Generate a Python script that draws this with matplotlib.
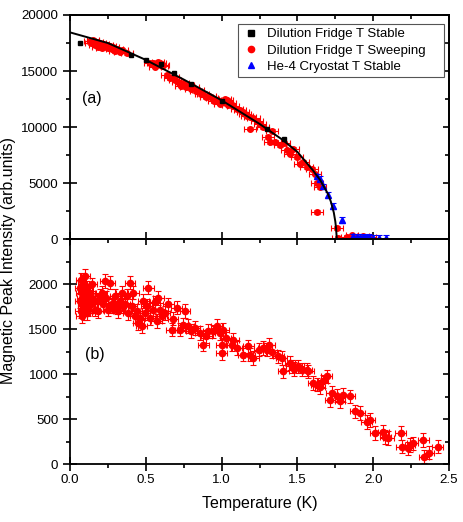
import matplotlib
matplotlib.use("Agg")
import matplotlib.pyplot as plt
from matplotlib.lines import Line2D
from matplotlib.ticker import MultipleLocator

plt.rcParams['font.family'] = ['Liberation Sans', 'DejaVu Sans']

# ---- panel (a): order parameter ----
# dilution fridge, T stable (black squares)
T_stable = [0.066, 0.40, 0.50, 0.60, 0.688, 0.80, 1.0, 1.297, 1.41]
I_stable = [17530, 16430, 15950, 15620, 14850, 13810, 12350, 9880, 8990]

# dilution fridge, T sweeping (red circles)
T_sweep_a = [0.13, 0.14, 0.15, 0.154, 0.165, 0.176, 0.187, 0.198, 0.209, 0.22,
             0.231, 0.242, 0.253, 0.264, 0.275, 0.286, 0.297, 0.308, 0.319, 0.33,
             0.341, 0.374, 0.528, 0.55, 0.561, 0.572, 0.583, 0.594, 0.605, 0.616,
             0.638, 0.66, 0.68, 0.693, 0.714, 0.73, 0.747, 0.765, 0.78, 0.80,
             0.813, 0.83, 0.846, 0.862, 0.879, 0.90, 0.92, 0.934, 0.95, 0.967,
             0.99, 1.011, 1.022, 1.033, 1.044, 1.055, 1.077, 1.10, 1.121, 1.14,
             1.154, 1.17, 1.187, 1.19, 1.21, 1.231, 1.253, 1.275, 1.308, 1.319,
             1.33, 1.352, 1.385, 1.41, 1.429, 1.45, 1.473, 1.495, 1.517, 1.539,
             1.56, 1.594, 1.616, 1.627, 1.631, 1.65, 1.759, 1.77, 1.825, 1.858,
             1.89, 1.935, 1.979]
I_sweep_a = [17650, 17500, 17750, 17710, 17320, 17620, 17170, 17470, 17020, 17410,
             17200, 17320, 17050, 17260, 16950, 17110, 16800, 16930, 16850, 16720,
             16870, 16580, 15680, 15740, 15390, 15620, 15850, 15740, 15450, 15530,
             14640, 14350, 14500, 14200, 14050, 13700, 13900, 13600, 13750, 13450,
             13540, 13200, 13300, 12950, 13000, 12710, 12800, 12560, 12300, 12410,
             12100, 12260, 12500, 12410, 12000, 12170, 11880, 11600, 11520, 11400,
             11220, 11000, 10920, 9870, 10800, 10570, 10330, 10030, 9140, 8690,
             9700, 8690, 8390, 8600, 7950, 7650, 8090, 7350, 6750, 6900,
             6460, 6310, 5860, 5030, 2440, 4670, 1030, 150, 210, 360,
             150, 270, 210]
xerr_a = 0.04
yerr_a = 150

# He-4 cryostat, T stable (blue triangles)
T_he4 = [1.627, 1.649, 1.671, 1.70, 1.737, 1.792, 1.869, 1.89, 1.91, 1.935,
         1.953, 1.975, 1.997, 2.04, 2.085]
I_he4 = [5625, 5420, 4730, 3990, 2990, 1750, 270, 250, 200, 230,
         180, 200, 170, 160, 150]
yerr_he4 = 250

# fit curve
T_fit = [0.0, 0.25, 0.5, 0.75, 1.0, 1.25, 1.4, 1.5, 1.6, 1.65, 1.7, 1.72,
         1.74, 1.75, 1.755, 1.76]
I_fit = [18450, 17500, 16000, 14250, 12400, 10300, 8900, 7800, 6200, 5300,
         4100, 3400, 2400, 1600, 1000, 0]

# ---- panel (b) ----
T_sweep_b = [0.066, 0.066, 0.07, 0.072, 0.077, 0.077, 0.08, 0.085, 0.088, 0.088,
             0.09, 0.095, 0.099, 0.10, 0.105, 0.11, 0.11, 0.115, 0.121, 0.125,
             0.132, 0.14, 0.143, 0.154, 0.165, 0.176, 0.187, 0.198, 0.209, 0.22,
             0.231, 0.24, 0.253, 0.264, 0.275, 0.286, 0.297, 0.308, 0.319, 0.33,
             0.341, 0.352, 0.363, 0.374, 0.385, 0.396, 0.407, 0.418, 0.429, 0.44,
             0.45, 0.462, 0.473, 0.484, 0.495, 0.506, 0.517, 0.528, 0.55, 0.561,
             0.572, 0.583, 0.594, 0.605, 0.626, 0.648, 0.67, 0.68, 0.703, 0.725,
             0.747, 0.758, 0.78, 0.80, 0.824, 0.857, 0.879, 0.90, 0.912, 0.945,
             0.967, 0.99, 1.0, 1.0, 1.011, 1.03, 1.066, 1.077, 1.10, 1.143,
             1.176, 1.187, 1.21, 1.249, 1.275, 1.297, 1.315, 1.33, 1.374, 1.396,
             1.407, 1.45, 1.462, 1.48, 1.506, 1.528, 1.56, 1.572, 1.605, 1.627,
             1.65, 1.67, 1.693, 1.715, 1.726, 1.759, 1.78, 1.803, 1.847, 1.88,
             1.913, 1.957, 1.979, 2.012, 2.067, 2.08, 2.10, 2.181, 2.188, 2.23,
             2.243, 2.26, 2.33, 2.335, 2.368, 2.425]
I_sweep_b = [1814, 1963, 1700, 2050, 1645, 1907, 1850, 1760, 2000, 1758,
             1930, 1680, 2094, 1800, 1880, 1795, 1683, 1960, 1720, 1850,
             1907, 1780, 2000, 1833, 1720, 1814, 1702, 1870, 1907, 1777,
             2038, 1850, 1720, 2019, 1760, 1795, 1870, 1740, 1702, 1814,
             1907, 1760, 1777, 1870, 1683, 2019, 1758, 1907, 1645, 1702,
             1570, 1627, 1535, 1814, 1683, 1758, 1963, 1627, 1720, 1800,
             1590, 1851, 1720, 1650, 1683, 1777, 1497, 1620, 1740, 1497,
             1553, 1702, 1535, 1480, 1516, 1460, 1330, 1420, 1480, 1478,
             1535, 1460, 1330, 1237, 1497, 1400, 1330, 1385, 1290, 1218,
             1311, 1218, 1180, 1274, 1292, 1274, 1330, 1250, 1199, 1180,
             1031, 1125, 1087, 1060, 1088, 1050, 1050, 1031, 900, 883,
             860, 920, 975, 715, 790, 760, 700, 771, 752, 585,
             566, 470, 492, 343, 361, 300, 287, 343, 194, 175,
             212, 230, 268, 82, 127, 194]
xerr_b = 0.035
yerr_b = 75

fig = plt.figure(figsize=(4.63, 5.22), dpi=100)
ax1 = fig.add_axes([0.1512, 0.5412, 0.8186, 0.4301])
ax2 = fig.add_axes([0.1512, 0.1111, 0.8186, 0.4301])

red, blue = '#ff0000', '#0000ff'
eb = dict(linestyle='none', capsize=2, elinewidth=0.8, capthick=0.8)

ax1.errorbar(T_sweep_a, I_sweep_a, xerr=xerr_a, yerr=yerr_a, fmt='o', ms=4,
             color=red, ecolor=red, zorder=2, **eb)
ax1.errorbar(T_he4, I_he4, yerr=yerr_he4, fmt='^', ms=4.5, color=blue,
             ecolor=blue, zorder=3, **eb)
ax1.plot(T_stable, I_stable, 's', ms=3.3, color='black', zorder=4)
ax1.plot(T_fit, I_fit, '-', color='black', lw=1.4, zorder=5)

ax2.errorbar(T_sweep_b, I_sweep_b, xerr=xerr_b, yerr=yerr_b, fmt='o', ms=4.5,
             color=red, ecolor=red, **eb)

handles = [Line2D([], [], ls='none', marker='s', ms=4, color='black'),
           Line2D([], [], ls='none', marker='o', ms=4.5, color=red),
           Line2D([], [], ls='none', marker='^', ms=5, color=blue)]
labels = ['Dilution Fridge T Stable', 'Dilution Fridge T Sweeping    ',
          'He-4 Cryostat T Stable']
leg = ax1.legend(handles, labels, loc='upper right', bbox_to_anchor=(0.987, 0.96),
                 borderaxespad=0, fontsize=9.5, fancybox=False, framealpha=1,
                 edgecolor='#555555', handlelength=1.4, handletextpad=0.5,
                 labelspacing=0.32, borderpad=0.3)
leg.get_frame().set_linewidth(0.8)

ax1.text(0.08, 12600, '(a)', fontsize=11.5, va='center')
ax2.text(0.10, 1220, '(b)', fontsize=11.5, va='center')

ax1.set_xlim(0, 2.5)
ax2.set_xlim(0, 2.5)
ax1.set_ylim(0, 20000)
ax2.set_ylim(0, 2500)
ax1.set_yticks([0, 5000, 10000, 15000, 20000])
ax2.set_yticks([0, 500, 1000, 1500, 2000])

for ax, ymin in ((ax1, 2500), (ax2, 250)):
    ax.xaxis.set_major_locator(MultipleLocator(0.5))
    ax.xaxis.set_minor_locator(MultipleLocator(0.25))
    ax.yaxis.set_minor_locator(MultipleLocator(ymin))
    ax.tick_params(which='major', direction='inout', length=10, width=1.2,
                   labelsize=9.6, pad=3.5)
    ax.tick_params(which='minor', direction='out', length=3, width=1.2)
    for s in ax.spines.values():
        s.set_linewidth(1.3)
    secy = ax.secondary_yaxis('right')
    secy.set_yticks(ax.get_yticks())
    secy.yaxis.set_minor_locator(MultipleLocator(ymin))
    secy.tick_params(which='major', direction='in', length=4.5, width=1.2,
                     labelright=False)
    secy.tick_params(which='minor', direction='in', length=3, width=1.2)
    secy.spines['right'].set_linewidth(1.3)
    secx = ax.secondary_xaxis('top')
    secx.xaxis.set_major_locator(MultipleLocator(0.5))
    secx.xaxis.set_minor_locator(MultipleLocator(0.25))
    secx.tick_params(which='major', direction='in', length=4.5, width=1.2,
                     labeltop=False)
    secx.tick_params(which='minor', direction='in', length=3, width=1.2)
    secx.spines['top'].set_linewidth(1.3)

ax1.tick_params(axis='x', labelbottom=False)
ax2.tick_params(axis='x', pad=2.5)
ax2.set_xticks([0, 0.5, 1.0, 1.5, 2.0, 2.5])
ax2.set_xticklabels(['0.0', '0.5', '1.0', '1.5', '2.0', '2.5'])
ax2.set_xlabel('Temperature (K)', fontsize=11.5, labelpad=7)

fig.text(0.019, 0.5, 'Magnetic Peak Intensity (arb.units)', rotation=90,
         ha='center', va='center', fontsize=11.5)

fig.savefig('out.png', dpi=100)
